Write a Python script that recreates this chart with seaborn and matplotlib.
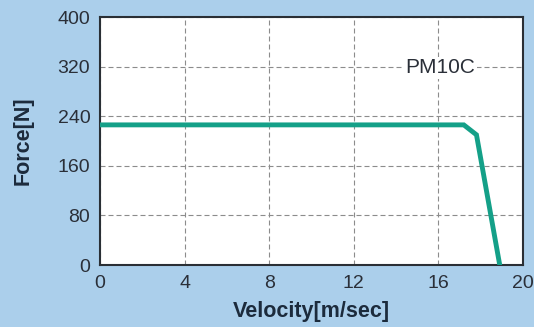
import pandas as pd
import matplotlib.pyplot as plt
import seaborn as sns

# Force-velocity curve data
velocity = [0, 17.2, 17.8, 18.9]
force = [226, 226, 210, 0]
x_ticks = [0, 4, 8, 12, 16, 20]
y_ticks = [0, 80, 160, 240, 320, 400]

df = pd.DataFrame({'Velocity': velocity, 'Force': force})

bg = '#abcfeb'
ink = '#1c2b3c'

sns.set_style('white')
plt.rcParams['font.family'] = ['Liberation Sans', 'DejaVu Sans']

fig = plt.figure(figsize=(5.34, 3.27), dpi=100, facecolor=bg)
ax = fig.add_axes([100 / 534, 1 - 265 / 327, 423 / 534, 248 / 327])
ax.set_facecolor('white')

sns.lineplot(data=df, x='Velocity', y='Force', ax=ax, color='#14a088',
             linewidth=3.5, solid_joinstyle='miter', zorder=3)

ax.set_xlim(0, 20)
ax.set_ylim(0, 400)
ax.set_xticks(x_ticks)
ax.set_yticks(y_ticks)
ax.grid(True, linestyle=(0, (4.5, 2.7)), color='#8c8c8c', linewidth=0.8)
ax.tick_params(axis='both', length=0, labelsize=14, colors='#2a2f38', pad=7)
for s in ax.spines.values():
    s.set_color('#2a2f35')
    s.set_linewidth(1.5)

ax.set_xlabel('Velocity[m/sec]', fontsize=15.5, fontweight='bold', color=ink, labelpad=7)
ax.set_ylabel('Force[N]', fontsize=15.5, fontweight='bold', color=ink, labelpad=17)

ax.text(16.1, 318, 'PM10C', fontsize=15, color='#2a2f38', ha='center', va='center',
        bbox=dict(facecolor='white', edgecolor='none', pad=1), zorder=4)

fig.savefig('out.png', dpi=100, facecolor=bg)
